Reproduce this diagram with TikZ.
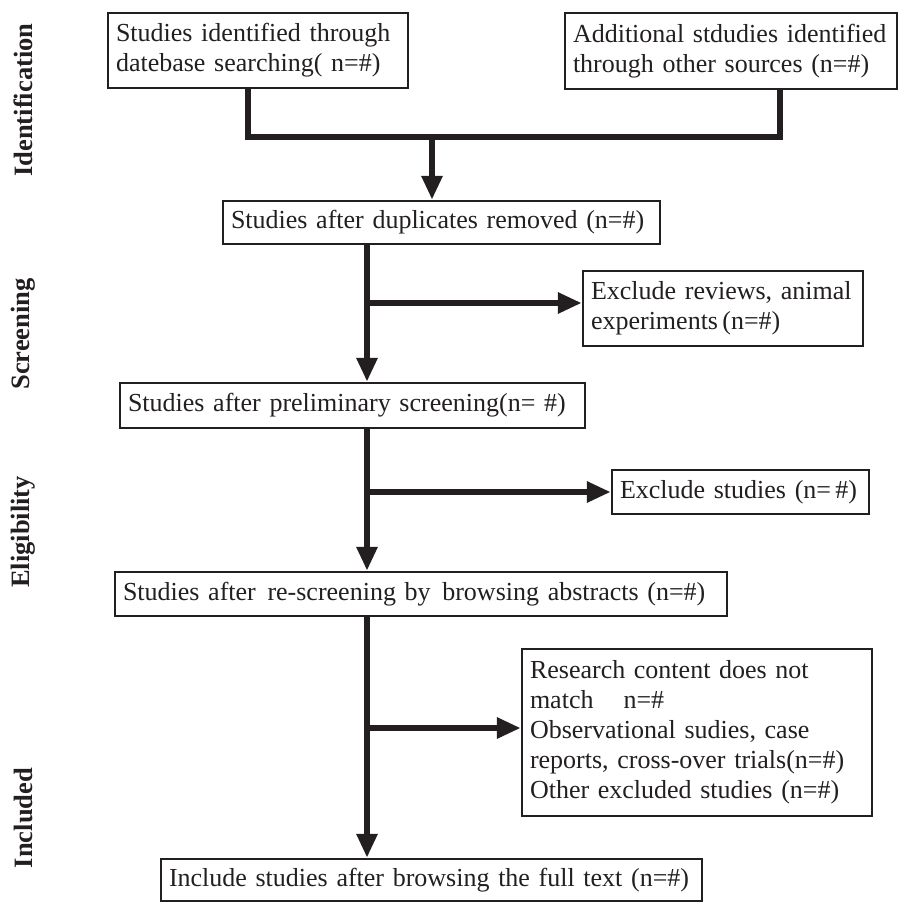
\documentclass[tikz,border=0pt]{standalone}
\usepackage{fontspec}
\setmainfont{Liberation Serif}
\usetikzlibrary{arrows.meta}
\definecolor{ink}{HTML}{231F20}
\begin{document}
\begin{tikzpicture}[x=1pt,y=-1pt,
 box/.style={draw=ink, line width=2.5pt, inner xsep=8pt, inner ysep=0pt, align=left,
   font=\fontsize{26}{30}\selectfont, text=ink, anchor=center},
 conn/.style={draw=ink, line width=6pt},
 arr/.style={conn, -{Triangle[length=24pt,width=20pt]}},
 phase/.style={rotate=90, font=\fontsize{26.5}{30}\selectfont\bfseries, text=ink}]
\useasboundingbox (0,0) rectangle (898,902);

% phase labels
\node[phase] (p1) at (23,100) {Identification};
\node[phase] (p2) at (23,334) {Screening};
\node[phase] (p3) at (23,532) {Eligibility};
\node[phase] (p4) at (23,818) {Included};

% boxes
\node[box, minimum width=300pt, minimum height=75pt, text width=284pt] (b1) at (258,50.5)
  {\mbox{Studies identified through}\\\mbox{datebase searching( n=\#)}};
\node[box, minimum width=332pt, minimum height=76pt, text width=316pt] (b2) at (731,51)
  {\mbox{Additional stdudies identified}\\\mbox{through other sources (n=\#)}};
\node[box, minimum width=437pt, minimum height=43pt, text width=421pt] (b3) at (441.5,222.5)
  {\mbox{Studies after duplicates removed (n=\#)}};
\node[box, minimum width=280pt, minimum height=75pt, text width=264pt] (b5) at (723,308.5)
  {\mbox{Exclude reviews, animal}\\\mbox{experiments\,(n=\#)}};
\node[box, minimum width=465pt, minimum height=45pt, text width=449pt] (b4) at (352.5,405.5)
  {\mbox{Studies after preliminary screening(n=~\#)}};
\node[box, minimum width=257pt, minimum height=44pt, text width=241pt] (b7) at (740.5,492)
  {\mbox{Exclude studies (n=\,\#)}};
\node[box, minimum width=612pt, minimum height=44pt, text width=596pt] (b6) at (421,594)
  {\mbox{Studies after\hspace{3pt} re-screening by\hspace{3pt} browsing abstracts (n=\#)}};
\node[box, minimum width=350pt, minimum height=167pt, text width=334pt] (b8) at (697,732.5)
  {\mbox{Research content does not}\\\mbox{match\hspace{30pt}n=\#}\\\mbox{Observational sudies, case}\\\mbox{reports, cross-over trials(n=\#)}\\\mbox{Other excluded studies (n=\#)}};
\node[box, minimum width=541pt, minimum height=42pt, text width=525pt] (b9) at (431.5,880)
  {\mbox{Include studies after browsing the full text (n=\#)}};

% junction coordinates
\coordinate (j) at (432,137);
\coordinate (m) at (367,0);
\coordinate (br1) at (367,303);
\coordinate (br2) at (367,492);
\coordinate (br3) at (367,728);

% connectors
\draw[conn] ([xshift=-10pt]b1.south) |- (j) -| ([xshift=49pt]b2.south);
\draw[arr] (j) -- (b3.north -| j);
\draw[arr] (b3.south -| m) -- (b4.north -| m);
\draw[arr] (br1) -- (b5.west |- br1);
\draw[arr] (b4.south -| m) -- (b6.north -| m);
\draw[arr] (br2) -- (b7.west |- br2);
\draw[arr] (b6.south -| m) -- (b9.north -| m);
\draw[arr] (br3) -- (b8.west |- br3);
\end{tikzpicture}
\end{document}
